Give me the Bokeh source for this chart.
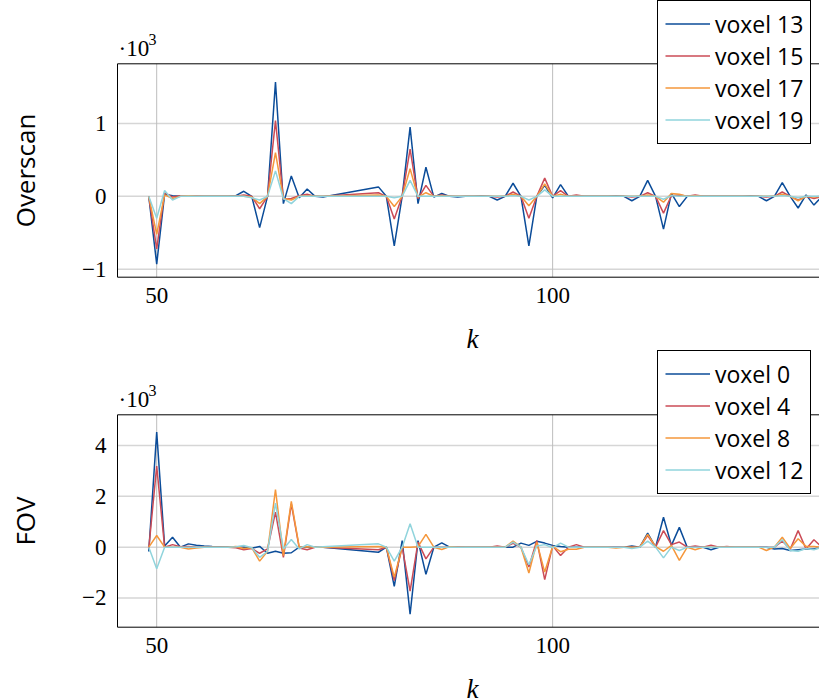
import math
from bokeh.plotting import figure
from bokeh.layouts import column
from bokeh.models import Legend, LegendItem, Label, FixedTicker, Range1d
from bokeh.embed import file_html
from bokeh.resources import INLINE

# sample index k (no samples between 72 and 77)
k = list(range(49, 72)) + list(range(78, 135))

# Overscan voxels, values in units of 10^3
voxel13 = [0, -0.93, 0.03, 0.01, 0, 0, 0, 0, 0, 0, 0, 0.01, 0.07, 0, -0.43, 0, 1.57, -0.1, 0.28, -0.02, 0.1, 0, -0.01,
           0.13, 0, -0.68, 0, 0.95, -0.1, 0.4, -0.01, 0.04, 0, -0.01, 0, 0, 0.01, 0, -0.05, 0, 0.18, 0, -0.68, 0, 0.15,
           -0.02, 0.16, 0, 0, 0, 0, 0, 0, 0.01, 0, -0.06, 0, 0.22, 0, -0.45, 0.04, -0.14, 0, 0, 0, 0, 0, 0, 0, 0,
           0.01, 0, -0.06, 0, 0.19, 0, -0.16, 0.02, -0.12, 0]
voxel15 = [0, -0.72, 0.05, -0.01, 0.01, 0.01, 0.01, 0, 0, 0, 0, 0, 0.02, 0, -0.17, 0, 1.04, -0.04, -0.03, 0.01, 0.03, 0, 0,
           0.05, 0, -0.31, 0, 0.65, -0.03, 0.15, 0, 0.02, 0, 0, 0, 0, 0, 0, -0.01, 0, 0.06, 0, -0.3, 0, 0.25,
           0, 0.08, 0, 0.02, 0, 0, 0, 0, 0, 0, -0.01, 0, 0.05, 0, -0.23, 0.01, 0.02, 0, 0.02, 0, 0, 0, 0, 0, 0,
           0, 0, -0.01, 0, 0.06, 0, -0.05, 0, -0.03, 0]
voxel17 = [0, -0.52, 0.02, -0.03, 0, 0.01, 0, 0, 0, 0, 0, 0, 0, -0.01, -0.1, 0, 0.6, -0.03, -0.05, 0, 0.01, 0, 0,
           0.02, 0, -0.14, 0, 0.38, -0.01, 0.05, 0, 0.01, 0, 0, 0, 0, 0, 0, 0, 0, 0.03, 0, -0.13, 0, 0.17,
           0, 0.03, 0, 0, 0, 0, 0, 0, 0, 0, 0, 0, 0.02, 0, -0.08, 0.04, 0.03, 0, 0.01, 0, 0, 0, 0, 0, 0,
           0, 0, 0, 0, 0.03, 0, -0.06, 0, -0.01, 0]
voxel19 = [0, -0.3, 0.08, -0.05, 0, 0, 0, 0, 0, 0, 0, 0, 0, -0.02, -0.05, 0, 0.35, -0.03, -0.1, 0, 0, 0, 0,
           0, 0, -0.02, 0, 0.22, 0, 0, 0, 0, 0, 0, 0, 0, 0, 0, 0, 0, 0.01, 0, -0.05, 0, 0.09,
           0, 0, 0, 0, 0, 0, 0, 0, 0, 0, 0, 0, 0, 0, -0.04, 0.01, 0, 0, 0, 0, 0, 0, 0, 0, 0,
           0, 0, 0, 0, 0.01, 0, -0.02, 0, 0, 0]

# FOV voxels, values in units of 10^3
voxel0 = [-0.17, 4.53, 0.05, 0.39, 0, 0.13, 0.08, 0.05, 0.03, 0.02, 0.01, 0.01, 0, -0.04, 0.03, -0.24, -0.16, -0.24, -0.22, 0, 0, 0, 0,
          -0.2, 0, -1.54, 0.26, -2.64, 0.26, -1.07, 0, 0.17, 0, 0, 0, 0, 0, 0, 0, 0, 0, 0.16, 0.07, 0.23, 0.16,
          0.07, 0.03, 0, 0, 0, 0, 0, 0, 0, 0, 0.05, 0, 0.55, 0, 1.18, 0.07, 0.78, 0, 0, 0, -0.1, 0, 0, 0, 0,
          0, 0, 0, -0.07, -0.05, -0.13, -0.1, -0.07, -0.07, 0]
voxel4 = [-0.05, 3.19, 0, 0.1, 0.02, 0.03, 0, 0, 0, 0, 0, -0.02, -0.1, -0.05, -0.24, -0.07, 1.38, -0.4, 1.7, -0.03, -0.1, 0, 0,
          -0.1, 0, -1.31, 0, -1.73, 0.2, -0.46, 0, 0, 0, 0.02, 0, 0, 0, 0, 0.05, 0, 0.15, 0, -0.78, 0.26, -1.28,
          0.05, -0.33, 0, 0.1, 0, 0, 0, 0, 0, 0, 0, 0, 0.46, 0, 0.65, 0.1, 0.2, 0, 0.05, 0, 0.08, 0, 0.03, 0, 0,
          0, 0, 0, 0, 0.24, -0.08, 0.65, -0.07, 0.29, 0]
voxel8 = [0, 0.46, 0, 0, 0, -0.07, -0.03, 0, 0, 0, 0, 0.03, -0.05, -0.02, -0.55, -0.16, 2.27, -0.33, 1.8, 0, 0.02, 0, 0,
          0.03, 0, -1.18, 0, 0, 0.02, 0.5, 0, -0.09, 0.02, 0, 0, 0, 0, 0, 0, 0, 0.24, 0, -1.02, 0.2, -0.98,
          0.03, -0.18, -0.08, -0.08, 0, 0, 0, 0, -0.03, 0, 0, 0, 0.5, 0.02, -0.16, 0.07, -0.52, 0, -0.1, 0, 0, 0, 0, 0, 0,
          0, 0, -0.13, 0, 0.39, -0.05, 0.33, 0.03, 0.03, 0]
voxel12 = [0, -0.85, 0, 0, 0, 0, 0, 0, 0, 0, 0, 0.02, 0.07, -0.02, -0.4, -0.16, 1.73, -0.07, 0.3, -0.07, 0.1, 0, 0.02,
           0.13, 0, -0.55, 0, 0.92, 0, 0, 0, 0, 0, 0, 0, 0, 0, 0, 0, 0, 0.2, 0, -0.69, 0.05, 0.1,
           -0.02, 0.16, 0, 0, 0, 0, 0, 0, 0, 0, -0.05, 0, 0.24, 0, -0.42, 0, -0.13, 0, 0, 0, 0, 0, 0, 0, 0,
           0, 0, 0, 0, 0.29, -0.13, -0.16, -0.05, -0.1, 0]

x_ticks = [50, 100]
colors = ["#0b4c99", "#cb4b56", "#f5973b", "#90d4dc"]

SERIF = "Liberation Serif"
SANS = "Open Sans"
W = 819
BOX_LEFT = 117          # pixel column of the axes box's left edge
X0, X1 = 45.05, 133.7   # k range covered by the axes box


def panel(ylabel, series, names, yr, yticks, height, box_top, box_bottom):
    # The plotting frame fills the whole canvas; the axes box, grid and axes
    # are placed inside it, so that every text can be drawn without clipping.
    y0, y1 = yr
    sy = (box_bottom - box_top) / (y1 - y0)
    sx = (W - BOX_LEFT) / (X1 - X0)

    p = figure(width=W, height=height, output_backend="svg", toolbar_location=None,
               x_range=Range1d(X0 - BOX_LEFT / sx, X1),
               y_range=Range1d(y0 - (height - box_bottom) / sy, y1 + box_top / sy),
               min_border_left=0, min_border_right=0, min_border_top=0, min_border_bottom=0,
               background_fill_color="white", border_fill_color="white",
               outline_line_color=None)

    p.xaxis.ticker = FixedTicker(ticks=x_ticks)
    p.xaxis.fixed_location = y0
    p.yaxis.ticker = FixedTicker(ticks=yticks)
    p.yaxis.fixed_location = X0
    p.yaxis.major_label_overrides = {t: (("\u2212" + str(-t)) if t < 0 else str(t)) for t in yticks}
    for ax in (p.xaxis, p.yaxis):
        ax.axis_label = None
        ax.axis_line_color = None
        ax.major_tick_line_color = None
        ax.minor_tick_line_color = None
        ax.major_label_text_font = SERIF
        ax.major_label_text_font_size = "23px"
        ax.major_label_text_color = "black"
        ax.major_label_standoff = 5

    # grid lines, only inside the box
    p.xgrid.visible = False
    p.ygrid.visible = False
    p.segment(x0=[X0] * len(yticks), y0=yticks, x1=[X1] * len(yticks), y1=yticks,
              line_color="#d6d6d6", line_width=1.5)
    p.segment(x0=x_ticks, y0=[y0] * len(x_ticks), x1=x_ticks, y1=[y1] * len(x_ticks),
              line_color="#bdbdbd", line_width=1)

    # axes box
    p.quad(left=[X0], right=[X1], bottom=[y0], top=[y1], fill_alpha=0,
           line_color="black", line_width=1)

    items = []
    for vals, name, c in zip(series, names, colors):
        r = p.line(k, vals, line_color=c, line_width=1.5)
        items.append(LegendItem(label=name, renderers=[r]))

    leg = Legend(items=items, location=(657, height - 143.5), orientation="vertical",
                 border_line_color="black", border_line_width=1, border_line_alpha=1,
                 background_fill_color="white", background_fill_alpha=1,
                 label_text_font=SANS, label_text_font_size="23px", label_text_color="black",
                 glyph_width=45, glyph_height=31, label_height=31, label_width=88,
                 label_standoff=5, padding=7, spacing=0, margin=0)
    p.add_layout(leg)

    # axis titles
    p.add_layout(Label(x=24, y=height - (box_top + box_bottom) / 2, x_units="screen", y_units="screen",
                       text=ylabel, angle=math.pi / 2, text_align="center", text_baseline="middle",
                       text_font=SANS, text_font_size="26px", text_color="black"))
    p.add_layout(Label(x=472, y=height - (box_bottom + 61.5), x_units="screen", y_units="screen",
                       text="k", text_align="center", text_baseline="middle",
                       text_font=SERIF, text_font_style="italic", text_font_size="27px",
                       text_color="black"))

    # scale factor note above the axes box
    p.add_layout(Label(x=BOX_LEFT + 1, y=height - (box_top - 15), x_units="screen", y_units="screen",
                       text="\u00b710", text_font=SERIF, text_font_size="23px", text_color="black",
                       text_baseline="middle"))
    p.add_layout(Label(x=BOX_LEFT + 31, y=height - (box_top - 24), x_units="screen", y_units="screen",
                       text="3", text_font=SERIF, text_font_size="16px", text_color="black",
                       text_baseline="middle"))
    return p


top = panel("Overscan", [voxel13, voxel15, voxel17, voxel19],
            ["voxel 13", "voxel 15", "voxel 17", "voxel 19"],
            (-1.11, 1.82), [-1, 0, 1], 350, 63.3, 276.7)
bot = panel("FOV", [voxel0, voxel4, voxel8, voxel12],
            ["voxel 0", "voxel 4", "voxel 8", "voxel 12"],
            (-3.15, 5.21), [-2, 0, 2, 4], 349, 64.3, 276.7)

layout = column(top, bot, spacing=0)
open("out.html", "w").write(file_html(layout, INLINE))
